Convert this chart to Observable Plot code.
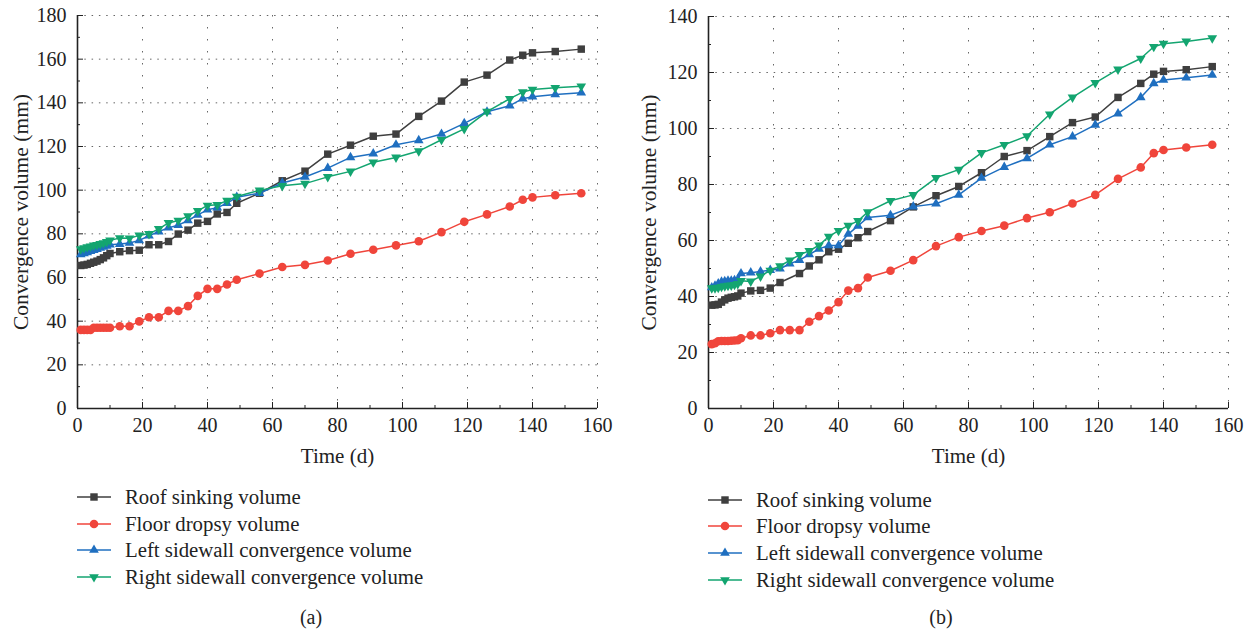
<!DOCTYPE html>
<html><head><meta charset="utf-8">
<script src="https://cdn.jsdelivr.net/npm/d3@7"></script>
<script src="https://cdn.jsdelivr.net/npm/@observablehq/plot@0.6"></script>
<style>
body{margin:0;background:#fff;font-family:"Liberation Serif","DejaVu Serif",serif;color:#222;}
#wrap{position:relative;width:1252px;height:632px;overflow:hidden}
#a{position:absolute;left:0;top:0}
#b{position:absolute;left:626px;top:0}
.legend{position:absolute;font-size:20.8px}
.row{display:flex;align-items:center;height:26.6px;white-space:nowrap}
.row svg{margin-right:14px;flex:none}
.cap{position:absolute;font-size:20px;transform:translateX(-50%)}
</style></head><body>
<div id="wrap"><div id="a"></div><div id="b"></div>
<div class="legend" id="la" style="left:77px;top:484px"></div>
<div class="legend" id="lb" style="left:708px;top:486.5px"></div>
<div class="cap" style="left:311px;top:606px">(a)</div>
<div class="cap" style="left:941px;top:606px">(b)</div>
</div>
<script>
// Time (d)
const times = [1,2,3,4,5,6,7,8,9,10,13,16,19,22,25,28,31,34,37,40,43,46,49,56,63,70,77,84,91,98,105,112,119,126,133,137,140,147,155];

// Chart (a)
const roofA = [65.5,65.7,66,66.5,67,67.5,68.2,69,70,71, 71.8,72.3,72.5,75,75,76.5,79.9,81.7,84.9,85.7,89.1,89.8,94, 98.6,104.3,108.7,116.5,120.6,124.7,125.7,133.8,140.8,149.5,152.7,159.6, 161.8,162.9,163.5,164.6];
const floorA = [36,36,36,36,37,37,37,37,37,37, 37.7,37.7,39.9,41.8,41.8,44.7,44.7,46.9,51.6,54.8,54.8,56.8,59, 61.8,64.8,65.8,67.8,70.9,72.7,74.7,76.6,80.8,85.5,88.9,92.5, 95.6,96.7,97.7,98.6];
const leftA = [70.5,71,71.5,72,72.5,73,73.5,74,74.5,75, 75.3,75.8,77,79.1,81,82.8,84,86.1,88.7,91,92,94,96.8, 98.6,103.3,106,110.1,115,116.7,120.8,122.8,125.7,130.6,135.9,138.7, 141.9,142.8,143.8,144.6];
const rightA = [73,73.5,74,74.3,74.7,75,75.4,75.8,76.3,77, 78.1,78,79.3,80,82.3,85,86.1,88.1,90.5,93,93.3,95.2,97.1, 99.9,102,103,106.1,108.6,112.8,115,117.9,123.1,128.1,136,141.9, 144.9,146.1,146.9,147.6];

// Chart (b)
const roofB = [36.9,37,37.2,38,38.8,39.4,39.7,39.9,40.2,41.2, 42,42.2,43,45,null,48.2,50.9,53.1,56,56.9,59,61,63.2, 67.1,72,76,79.3,84.2,90,92.1,97.1,102.1,104.1,111.1,116.1, 119.4,120.4,121,122.1];
const floorB = [23,23.3,24,24.1,24.1,24.1,24.2,24.3,24.4,25.1, 26.1,26.1,26.9,28,28,28,31,33,35,38,42.1,43,46.8, 49.2,53,58,61.2,63.4,65.3,68,70.1,73.2,76.3,82,86.1, 91.2,92.3,93.2,94.2];
const leftB = [43.2,43.8,44.6,45.2,45.4,45.6,45.6,45.8,46,48.2, 48.5,48.9,49.4,49.9,51.7,53,55,57,58.2,58.2,62.3,65.2,68.2, 69,72.1,73.1,76.3,82.3,86.2,89.3,94.2,97.1,101.3,105.3,111.1, 116.1,117.3,118.1,119.1];
const rightB = [43,43,43.2,43.5,43.7,43.9,44,44.2,44.5,45.6, 45.4,47.2,49.3,50.9,52.9,54.9,56.3,58.3,61.4,63.5,65.3,67,70.2, 74.2,76.3,82.4,85.3,91.3,94.2,97.3,105.1,111.1,116.3,121.1,125, 129.2,130.3,131.1,132.3];

const seriesNames = ["Roof sinking volume","Floor dropsy volume","Left sidewall convergence volume","Right sidewall convergence volume"];
const colors = ["#3f3f3f","#f0453b","#1f6fc0","#13a570"];
const symbols = ["square","circle","triangle","triangle"];
const rotations = [0,0,0,180];
const radii = [4.2,4.3,3.6,3.6];

const xTicks = [0,20,40,60,80,100,120,140,160];
const xMinor = [10,30,50,70,90,110,130,150];
const yTicksA = [0,20,40,60,80,100,120,140,160,180];
const yMinorA = [10,30,50,70,90,110,130,150,170];
const yTicksB = [0,20,40,60,80,100,120,140];
const yMinorB = [10,30,50,70,90,110,130];

function chart(valuesList, yMax, yTicks, yMinor, m) {
  const marks = [
    Plot.gridX(xTicks.filter(d => d > 0), {stroke: "#666", strokeOpacity: 1, strokeDasharray: "1.5,10.5"}),
    Plot.gridY(yTicks.filter(d => d > 0), {stroke: "#666", strokeOpacity: 1, strokeDasharray: "1.5,5.8"}),
    Plot.axisX(xTicks, {tickSize: -6, tickPadding: 15, fontSize: 20, label: null}),
    Plot.axisX({label: "Time (d)", ticks: [], tickSize: 0, fontSize: 21, labelAnchor: "center", labelOffset: 54, labelArrow: "none"}),
    Plot.axisX(xMinor, {tickSize: -3, tickFormat: () => "", label: null}),
    Plot.axisY(yTicks, {tickSize: -6, tickPadding: 17, fontSize: 20, label: null}),
    Plot.axisY({label: "Convergence volume (mm)", ticks: [], tickSize: 0, fontSize: 21.5, labelAnchor: "center", labelOffset: m.labelOffset, labelArrow: "none"}),
    Plot.axisY(yMinor, {tickSize: -3, tickFormat: () => "", label: null}),
    Plot.ruleX([0], {stroke: "#222", strokeWidth: 1.6}),
    Plot.ruleY([0], {stroke: "#222", strokeWidth: 1.6})
  ];
  valuesList.forEach((vals, i) => {
    const data = [];
    vals.forEach((v, j) => { if (v != null) data.push({t: times[j], v}); });
    marks.push(Plot.line(data, {x: "t", y: "v", stroke: colors[i], strokeWidth: 1.5}));
    marks.push(Plot.dot(data, {x: "t", y: "v", symbol: symbols[i], fill: colors[i], stroke: "none", r: radii[i], rotate: rotations[i]}));
  });
  return Plot.plot({
    width: 626, height: 475,
    marginLeft: m.left, marginRight: m.right, marginTop: m.top, marginBottom: 67,
    style: {fontFamily: "'Liberation Serif', 'DejaVu Serif', serif", fontSize: "20px", color: "#222", background: "#fff", overflow: "visible"},
    x: {domain: [0, 160]},
    y: {domain: [0, yMax]},
    marks
  });
}

document.getElementById("a").append(chart([roofA, floorA, leftA, rightA], 180, yTicksA, yMinorA, {left: 77, right: 29, top: 15, labelOffset: 65}));
document.getElementById("b").append(chart([roofB, floorB, leftB, rightB], 140, yTicksB, yMinorB, {left: 82, right: 24, top: 16, labelOffset: 68}));

function legend(el) {
  seriesNames.forEach((name, i) => {
    const row = document.createElement("div");
    row.className = "row";
    const svg = d3.create("svg").attr("width", 34).attr("height", 14);
    svg.append("line").attr("x1", 0).attr("x2", 34).attr("y1", 7).attr("y2", 7).attr("stroke", colors[i]).attr("stroke-width", 1.5);
    const sym = {square: d3.symbolSquare, circle: d3.symbolCircle, triangle: d3.symbolTriangle}[symbols[i]];
    svg.append("path").attr("d", d3.symbol(sym, Math.PI * radii[i] * radii[i])())
      .attr("transform", `translate(17,7) rotate(${rotations[i]})`).attr("fill", colors[i]);
    row.append(svg.node());
    const span = document.createElement("span");
    span.textContent = name;
    row.append(span);
    el.append(row);
  });
}
legend(document.getElementById("la"));
legend(document.getElementById("lb"));
</script>
</body></html>
